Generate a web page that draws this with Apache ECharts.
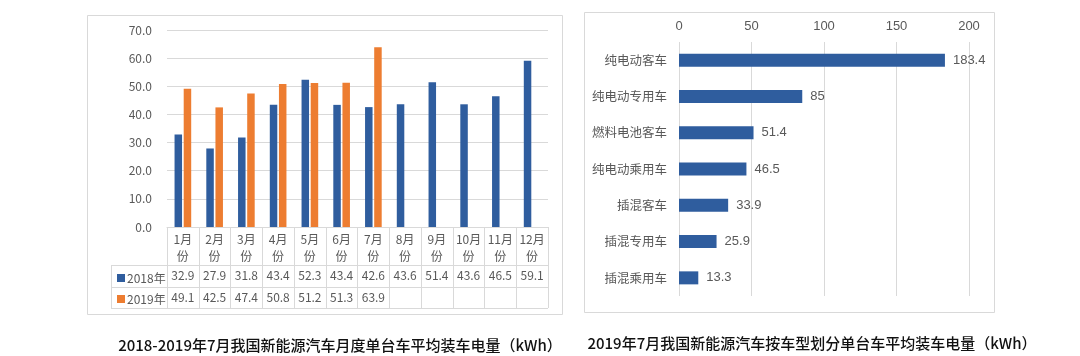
<!DOCTYPE html>
<html>
<head>
<meta charset="utf-8">
<script src="https://cdn.jsdelivr.net/npm/echarts@6/dist/echarts.min.js"></script>
<style>
html,body{margin:0;padding:0;background:#fff;}
#chart{width:1080px;height:356px;}
</style>
</head>
<body>
<div id="chart"></div>
<script>
// ---- data ----
const months = ['1月份','2月份','3月份','4月份','5月份','6月份','7月份','8月份','9月份','10月份','11月份','12月份'];
const seriesNames = ['2018年','2019年'];
const values2018 = [32.9, 27.9, 31.8, 43.4, 52.3, 43.4, 42.6, 43.6, 51.4, 43.6, 46.5, 59.1];
const values2019 = [49.1, 42.5, 47.4, 50.8, 51.2, 51.3, 63.9, null, null, null, null, null];
const vehicleTypes = ['纯电动客车','纯电动专用车','燃料电池客车','纯电动乘用车','插混客车','插混专用车','插混乘用车'];
const vehicleValues = [183.4, 85, 51.4, 46.5, 33.9, 25.9, 13.3];
const yTicksLeft = {min: 0, max: 70, interval: 10};
const xTicksRight = {min: 0, max: 200, interval: 50};
const titleLeft = '2018-2019年7月我国新能源汽车月度单台车平均装车电量（kWh）';
const titleRight = '2019年7月我国新能源汽车按车型划分单台车平均装车电量（kWh）';

// ---- styles ----
const BLUE = '#2f5d9e', ORANGE = '#ed7d31', GRID = '#d9d9d9', TXT = '#595959';
const CJK = '"Microsoft YaHei","Noto Sans CJK SC",sans-serif';
const ARIAL = '"Liberation Sans",Arial,"Noto Sans CJK SC",sans-serif';

const chart = echarts.init(document.getElementById('chart'), null, {renderer: 'canvas'});

function fmt(v){ return (v === null || v === undefined) ? ' ' : v.toFixed(1); }

const tableLine = (x1,y1,x2,y2) => ({type:'line', shape:{x1,y1,x2,y2}, style:{stroke:GRID, lineWidth:1}, silent:true});

const option = {
  backgroundColor: '#fff',
  animation: false,
  legend: {
    data: seriesNames,
    orient: 'vertical',
    left: 112,
    top: 266,
    itemWidth: 8,
    itemHeight: 8,
    itemGap: 7,
    icon: 'rect',
    selectedMode: false,
    textStyle: {color: TXT, fontSize: 12, fontFamily: CJK, lineHeight: 14, padding: [0,0,0,-3]}
  },
  grid: [
    {left: 167, top: 30, width: 381, height: 197},
    {left: 167, top: 227, width: 381, height: 81},
    {left: 679, top: 42, width: 290, height: 254}
  ],
  xAxis: [
    {
      type: 'category', gridIndex: 0, data: months,
      axisLine: {show: true, lineStyle: {color: GRID}},
      axisTick: {show: false},
      axisLabel: {
        interval: 0, margin: 4, color: TXT, fontFamily: CJK,
        formatter: (name, idx) => `{m|${name.slice(0, -1)}}\n{m|${name.slice(-1)}}\n{v|${fmt(values2018[idx])}}\n{v|${fmt(values2019[idx])}}`,
        rich: {
          m: {fontSize: 12, lineHeight: 17, color: TXT, fontFamily: CJK},
          v: {fontSize: 12, lineHeight: 21.5, color: TXT, fontFamily: CJK}
        }
      }
    },
    {
      type: 'category', gridIndex: 1, data: months,
      axisLine: {show: false}, axisTick: {show: false}, axisLabel: {show: false},
      splitLine: {show: true, interval: 0, lineStyle: {color: GRID}}
    },
    {
      type: 'value', gridIndex: 2, position: 'top',
      min: xTicksRight.min, max: xTicksRight.max, interval: xTicksRight.interval,
      axisLine: {show: false}, axisTick: {show: false},
      axisLabel: {color: TXT, fontSize: 13, margin: 9, fontFamily: ARIAL},
      splitLine: {show: true, lineStyle: {color: GRID}}
    }
  ],
  yAxis: [
    {
      type: 'value', gridIndex: 0,
      min: yTicksLeft.min, max: yTicksLeft.max, interval: yTicksLeft.interval,
      axisLine: {show: false}, axisTick: {show: false},
      axisLabel: {color: TXT, fontSize: 12, margin: 15, fontFamily: CJK, formatter: v => v.toFixed(1)},
      splitLine: {show: true, lineStyle: {color: GRID}}
    },
    {type: 'value', gridIndex: 1, show: false, min: 0, max: 1},
    {
      type: 'category', gridIndex: 2, data: vehicleTypes, inverse: true,
      axisLine: {show: false}, axisTick: {show: false},
      axisLabel: {color: TXT, fontSize: 12.5, margin: 12, fontFamily: CJK}
    }
  ],
  series: [
    {
      name: seriesNames[0], type: 'bar', xAxisIndex: 0, yAxisIndex: 0,
      data: values2018, itemStyle: {color: BLUE}, barWidth: 7.5, barGap: '22%'
    },
    {
      name: seriesNames[1], type: 'bar', xAxisIndex: 0, yAxisIndex: 0,
      data: values2019, itemStyle: {color: ORANGE}, barWidth: 7.5, barGap: '22%'
    },
    {
      name: '车型', type: 'bar', xAxisIndex: 2, yAxisIndex: 2,
      data: vehicleValues, itemStyle: {color: BLUE}, barWidth: 13,
      label: {show: true, position: 'right', distance: 8, color: TXT, fontSize: 13, fontFamily: ARIAL}
    }
  ],
  graphic: [
    {type: 'rect', shape: {x: 87.5, y: 15.5, width: 475, height: 299}, style: {fill: 'none', stroke: GRID, lineWidth: 1}, silent: true, z: -1},
    {type: 'rect', shape: {x: 584.5, y: 12.5, width: 410, height: 300}, style: {fill: 'none', stroke: GRID, lineWidth: 1}, silent: true, z: -1},
    tableLine(111, 265.5, 548, 265.5),
    tableLine(111, 287.5, 548, 287.5),
    tableLine(111, 308.5, 548, 308.5),
    tableLine(111.5, 265, 111.5, 308),
    {type: 'text', x: 340, y: 345, style: {text: titleLeft, fill: '#111', font: '500 15px "Noto Sans CJK SC", sans-serif', textAlign: 'center', textVerticalAlign: 'middle'}},
    {type: 'text', x: 812, y: 343, style: {text: titleRight, fill: '#111', font: '500 15px "Noto Sans CJK SC", sans-serif', textAlign: 'center', textVerticalAlign: 'middle'}}
  ]
};
chart.setOption(option);
</script>
</body>
</html>
